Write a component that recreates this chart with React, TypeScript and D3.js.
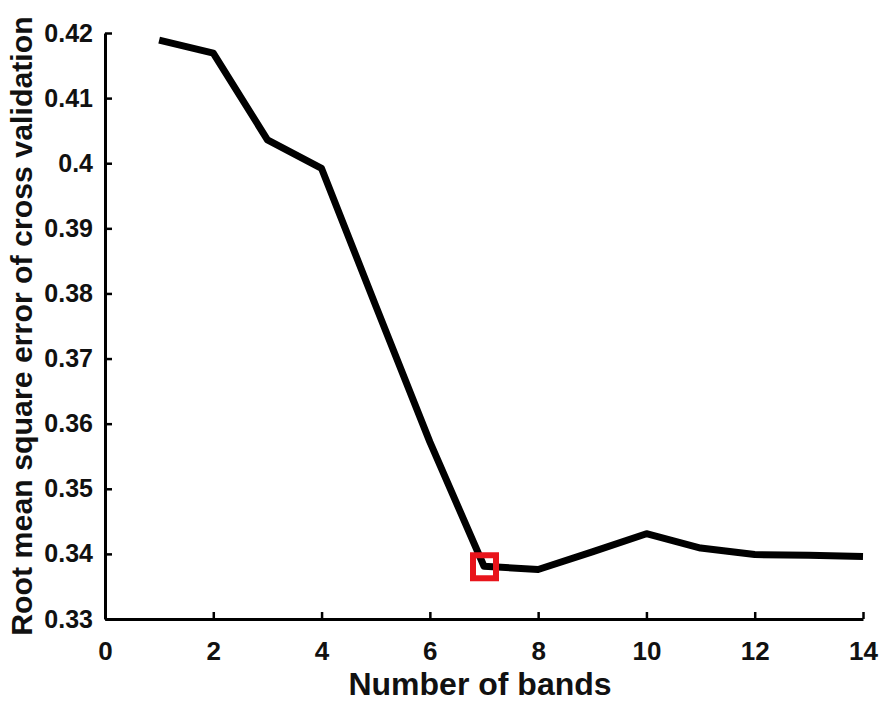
import React, { useEffect, useRef } from "react";
import * as d3 from "d3";

const bands = [1, 2, 3, 4, 5, 6, 7, 8, 9, 10, 11, 12, 13, 14];
const rmsecv = [0.4189, 0.4169, 0.4036, 0.3992, 0.3781, 0.3572, 0.3381, 0.3376, 0.3403, 0.3431, 0.3409, 0.3399, 0.3398, 0.3396];
const xTicks = [0, 2, 4, 6, 8, 10, 12, 14];
const yTicks = [0.33, 0.34, 0.35, 0.36, 0.37, 0.38, 0.39, 0.4, 0.41, 0.42];
const yTickLabels = ["0.33", "0.34", "0.35", "0.36", "0.37", "0.38", "0.39", "0.4", "0.41", "0.42"];
const bestIndex = 6;
const xTitle = "Number of bands";
const yTitle = "Root mean square error of cross validation";

const W = 886;
const H = 710;
const M = { left: 105, right: 23, top: 33, bottom: 91 };

export default function App() {
  const ref = useRef<SVGSVGElement>(null);
  useEffect(() => {
    const svg = d3.select(ref.current);
    svg.selectAll("*").remove();
    const x = d3.scaleLinear().domain([0, 14]).range([M.left, W - M.right]);
    const y = d3.scaleLinear().domain([0.33, 0.42]).range([H - M.bottom, M.top]);
    const font = "Arial, 'Liberation Sans', sans-serif";

    const gx = svg.append("g").attr("transform", `translate(0,${H - M.bottom})`)
      .call(d3.axisBottom(x).tickValues(xTicks).tickSizeInner(-7).tickSizeOuter(0).tickPadding(23).tickFormat(d3.format("d")));
    gx.select(".domain").attr("stroke", "#000").attr("stroke-width", 3);
    gx.selectAll(".tick line").attr("stroke", "#000").attr("stroke-width", 2.5);
    gx.selectAll(".tick text").attr("font-family", font).attr("font-weight", "bold").attr("font-size", 26).attr("fill", "#111");

    const gy = svg.append("g").attr("transform", `translate(${M.left},0)`)
      .call(d3.axisLeft(y).tickValues(yTicks).tickSizeInner(-7).tickSizeOuter(0).tickPadding(12)
        .tickFormat((d, i) => yTickLabels[i]));
    gy.select(".domain").attr("stroke", "#000").attr("stroke-width", 3);
    gy.selectAll(".tick line").attr("stroke", "#000").attr("stroke-width", 2.5);
    gy.selectAll(".tick text").attr("font-family", font).attr("font-weight", "bold").attr("font-size", 25).attr("fill", "#111");

    const line = d3.line<number>().x((_, i) => x(bands[i])).y((d) => y(d));
    svg.append("path").datum(rmsecv).attr("d", line).attr("fill", "none")
      .attr("stroke", "#000").attr("stroke-width", 7).attr("stroke-linejoin", "round");

    const s = 23;
    svg.append("rect")
      .attr("x", x(bands[bestIndex]) - s / 2 + 0.5).attr("y", y(rmsecv[bestIndex]) - s / 2 + 0.5)
      .attr("width", s).attr("height", s).attr("fill", "none")
      .attr("stroke", "#e8141b").attr("stroke-width", 6);

    svg.append("text").attr("x", 480).attr("y", 695)
      .attr("text-anchor", "middle").attr("font-family", font).attr("font-weight", "bold")
      .attr("font-size", 32).attr("fill", "#111").text(xTitle);

    svg.append("text").attr("transform", `translate(32,${326}) rotate(-90)`)
      .attr("text-anchor", "middle").attr("font-family", font).attr("font-weight", "bold")
      .attr("font-size", 30.3).attr("fill", "#111").text(yTitle);
  }, []);
  return (
    <svg ref={ref} width={W} height={H} style={{ position: "absolute", left: 0, top: 0, background: "#fff" }} />
  );
}
